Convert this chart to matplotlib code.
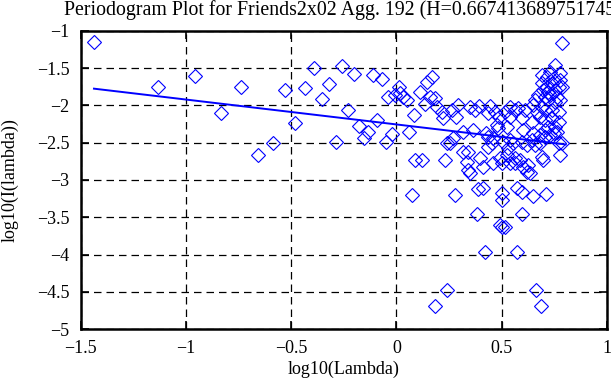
import numpy as np
import matplotlib
matplotlib.use("Agg")
import matplotlib.pyplot as plt

# periodogram points (log10 lambda, log10 I(lambda))
log_lambda = [
    -1.436, -1.133, -0.956, -0.831, -0.737, -0.656, -0.587, -0.530, -0.480, -0.434,
    -0.393, -0.352, -0.320, -0.285, -0.257, -0.228, -0.201, -0.176, -0.156, -0.133,
    -0.110, -0.091, -0.068, -0.051, -0.039, -0.019, -0.007, 0.013, 0.017, 0.033,
    0.049, 0.059, 0.072, 0.085, 0.088, 0.123, 0.113, 0.136, 0.144, 0.159,
    0.169, 0.183, 0.183, 0.194, 0.215, 0.223, 0.231, 0.239, 0.242, 0.254,
    0.267, 0.262, 0.278, 0.283, 0.294, 0.315, 0.318, 0.341, 0.334, 0.341,
    0.349, 0.349, 0.365, 0.373, 0.381, 0.389, 0.394, 0.397, 0.413, 0.413,
    0.421, 0.425, 0.436, 0.436, 0.436, 0.444, 0.452, 0.460, 0.460, 0.468,
    0.476, 0.484, 0.488, 0.492, 0.494, 0.500, 0.500, 0.500, 0.500, 0.507,
    0.516, 0.516, 0.524, 0.524, 0.531, 0.539, 0.539, 0.539, 0.539, 0.555,
    0.563, 0.563, 0.571, 0.571, 0.579, 0.587, 0.595, 0.595, 0.595, 0.598,
    0.603, 0.603, 0.611, 0.619, 0.619, 0.627, 0.642, 0.642, 0.650, 0.650,
    0.650, 0.658, 0.658, 0.663, 0.666, 0.674, 0.682, 0.682, 0.682, 0.685,
    0.690, 0.690, 0.690, 0.690, 0.698, 0.698, 0.706, 0.706, 0.706, 0.706,
    0.706, 0.709, 0.714, 0.714, 0.722, 0.722, 0.722, 0.730, 0.730, 0.730,
    0.738, 0.738, 0.738, 0.746, 0.746, 0.754, 0.754, 0.754, 0.754, 0.762,
    0.762, 0.770, 0.770, 0.770, 0.770, 0.778, 0.778, 0.778, 0.778, 0.786,
    0.786, 0.786, 0.634, 0.563,
]
log_power = [
    -1.152, -1.752, -1.600, -2.105, -1.756, -2.660, -2.507, -1.788, -2.239, -1.765,
    -1.493, -1.917, -1.707, -2.494, -1.470, -2.060, -1.581, -2.271, -2.430, -2.352,
    -1.595, -2.195, -1.644, -2.486, -1.882, -2.383, -1.859, -1.748, -1.836, -1.890,
    -1.926, -2.352, -3.201, -2.128, -2.732, -2.732, -1.815, -1.980, -1.681, -1.882,
    -1.613, -1.903, -4.691, -2.016, -2.083, -2.172, -2.738, -2.507, -4.477, -2.507,
    -2.440, -2.060, -3.208, -2.158, -1.993, -2.352, -2.620, -2.624, -2.754, -2.866,
    -2.910, -2.016, -2.329, -2.060, -3.450, -3.121, -2.007, -2.709, -2.822, -3.111,
    -3.963, -2.365, -2.105, -2.419, -2.553, -2.007, -2.507, -2.440, -2.776, -2.083,
    -2.262, -2.306, -2.150, -2.709, -3.604, -3.179, -3.268, -3.635, -2.776, -2.486,
    -2.083, -3.627, -2.285, -2.664, -2.575, -2.016, -2.150, -2.463, -2.776, -2.507,
    -2.060, -2.709, -3.111, -3.963, -2.038, -2.732, -2.172, -2.486, -3.157, -3.460,
    -2.329, -2.822, -2.060, -2.530, -2.889, -2.799, -2.217, -2.463, -1.993, -2.373,
    -3.215, -1.926, -2.530, -4.477, -2.083, -1.859, -2.150, -2.396, -2.507, -4.691,
    -1.591, -1.702, -2.016, -2.687, -1.792, -2.732, -1.882, -2.060, -2.195, -2.329,
    -2.419, -3.192, -1.613, -1.748, -1.815, -1.926, -2.285, -1.546, -1.859, -2.396,
    -1.702, -2.060, -2.172, -2.373, -1.635, -1.456, -1.792, -1.949, -2.285, -1.882,
    -2.352, -1.748, -2.083, -2.217, -2.507, -1.568, -1.658, -1.926, -2.664, -1.161,
    -1.748, -2.507, -2.910, -2.776,
]

# least squares line endpoints as drawn
fit_x = [-1.436, 0.804]
fit_y = [-1.774, -2.523]

title_text = "Periodogram Plot for Friends2x02 Agg. 192 (H=0.667413689751745)"

plt.rcParams['font.family'] = ['Liberation Serif', 'DejaVu Serif']
plt.rcParams['font.size'] = 13

fig = plt.figure(figsize=(6.11, 3.85), dpi=100)
ax = fig.add_axes([80.5 / 611, 1 - 329 / 385, (607 - 80.5) / 611, (329 - 31) / 385])

ax.plot(log_lambda, log_power, linestyle='none', marker='D', markersize=7.0,
        markerfacecolor='none', markeredgecolor='#0000ff', markeredgewidth=0.8,
        clip_on=False, zorder=3)
ax.plot(fit_x, fit_y, color='#0000ff', linewidth=1.4, zorder=4)

ax.set_xlim(-1.5, 1)
ax.set_ylim(-5, -1)
ax.set_xticks([-1.5, -1, -0.5, 0, 0.5, 1])
ax.set_yticks([-5, -4.5, -4, -3.5, -3, -2.5, -2, -1.5, -1])
ax.set_xticklabels(['\u22121.5', '\u22121', '\u22120.5', '0', '0.5', '1'])
ax.set_yticklabels(['\u22125', '\u22124.5', '\u22124', '\u22123.5', '\u22123',
                    '\u22122.5', '\u22122', '\u22121.5', '\u22121'])

ax.grid(True, color='black', linestyle=(0, (6, 4)), linewidth=0.9)
ax.set_axisbelow(True)
ax.tick_params(direction='in', length=6, width=1.2, top=True, right=True,
               labelsize=13)
ax.tick_params(axis='x', pad=8)
ax.tick_params(axis='y', pad=8)
for s in ax.spines.values():
    s.set_linewidth(1.8)

ax.set_xlabel('log10(Lambda)', fontsize=13)
ax.set_ylabel('log10(I(lambda))', fontsize=13)
ax.xaxis.set_label_coords(0.5, -0.108)
ax.yaxis.set_label_coords(-0.118, 0.5)

fig.text(64 / 611, 1 - 14.5 / 385, title_text, fontsize=14.3, ha='left', va='baseline')

fig.savefig('out.png', dpi=100)
